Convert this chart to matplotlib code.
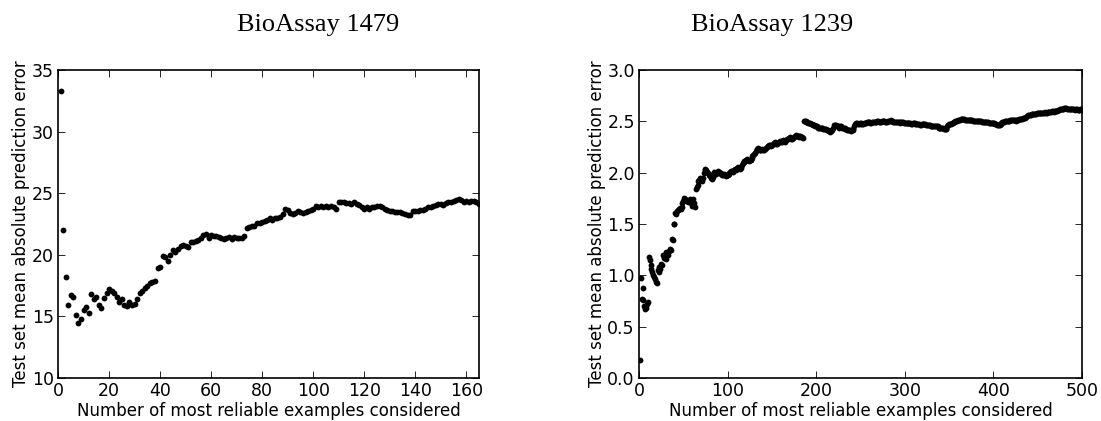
import numpy as np
import matplotlib
matplotlib.use('Agg')
import matplotlib.pyplot as plt

# BioAssay 1479: error for the n most reliable examples, n = 1..165
err_1479 = [
    33.3, 22.0, 18.2, 15.9, 16.7, 16.6, 15.1, 14.5, 14.8, 15.5,
    15.8, 15.3, 16.8, 16.4, 16.6, 15.9, 15.7, 16.5, 16.9, 17.2,
    17.1, 16.9, 16.6, 16.2, 16.4, 15.9, 15.85, 16.2, 15.9, 16.0,
    16.4, 16.9, 17.1, 17.3, 17.5, 17.7, 17.8, 17.9, 18.9, 19.0,
    19.9, 19.8, 19.5, 20.0, 20.4, 20.2, 20.5, 20.7, 20.8, 20.7,
    20.6, 21.0, 21.05, 21.1, 21.2, 21.4, 21.6, 21.7, 21.4, 21.6,
    21.5, 21.55, 21.45, 21.35, 21.3, 21.4, 21.45, 21.3, 21.45, 21.4,
    21.4, 21.4, 21.55, 22.2, 22.25, 22.3, 22.3, 22.6, 22.55, 22.7,
    22.75, 22.8, 22.95, 22.8, 22.95, 23.0, 23.1, 23.35, 23.75, 23.6,
    23.4, 23.3, 23.4, 23.55, 23.45, 23.4, 23.5, 23.55, 23.6, 23.75,
    23.95, 23.9, 24.0, 23.9, 24.0, 23.9, 23.95, 23.85, 23.75, 24.3,
    24.3, 24.25, 24.2, 24.2, 24.15, 24.3, 24.15, 24.05, 23.9, 23.75,
    23.85, 23.7, 23.85, 23.9, 23.95, 24.0, 23.9, 23.7, 23.6, 23.55,
    23.55, 23.5, 23.5, 23.45, 23.4, 23.35, 23.2, 23.2, 23.55, 23.55,
    23.55, 23.6, 23.6, 23.7, 23.85, 23.9, 24.0, 24.05, 24.1, 24.1,
    24.05, 24.2, 24.25, 24.3, 24.35, 24.45, 24.55, 24.45, 24.3, 24.4,
    24.3, 24.35, 24.35, 24.3, 24.1,
]

# BioAssay 1239: error for the n most reliable examples, n = 1..500
err_1239 = [
    0.18, 0.97, 0.77, 0.88, 0.76, 0.70, 0.67, 0.68, 0.72, 0.74,
    1.18, 1.15, 1.10, 1.06, 1.03, 1.00, 0.98, 0.96, 0.94, 0.93,
    1.05, 1.08, 1.03, 1.06, 1.11, 1.10, 1.20, 1.17, 1.18, 1.16,
    1.23, 1.21, 1.20, 1.24, 1.26, 1.25, 1.35, 1.34, 1.50, 1.50,
    1.61, 1.60, 1.63, 1.64, 1.65, 1.66, 1.65, 1.67, 1.70, 1.72,
    1.75, 1.74, 1.73, 1.72, 1.71, 1.72, 1.74, 1.73, 1.70, 1.68,
    1.74, 1.70, 1.67, 1.84, 1.86, 1.88, 1.92, 1.93, 1.95, 1.94,
    1.92, 1.95, 2.00, 2.03, 2.04, 2.03, 2.01, 2.00, 1.98, 1.97,
    1.95, 1.94, 1.96, 1.99, 2.01, 2.00, 1.99, 2.01, 2.02, 2.01,
    2.00, 2.00, 1.99, 1.98, 1.98, 1.99, 1.98, 1.97, 1.98, 1.98,
    1.99, 2.00, 2.01, 2.02, 2.02, 2.01, 2.03, 2.04, 2.03, 2.04,
    2.05, 2.06, 2.05, 2.04, 2.05, 2.07, 2.09, 2.10, 2.11, 2.11,
    2.12, 2.13, 2.12, 2.11, 2.12, 2.12, 2.14, 2.16, 2.17, 2.18,
    2.19, 2.21, 2.23, 2.24, 2.23, 2.22, 2.22, 2.22, 2.23, 2.22,
    2.22, 2.23, 2.24, 2.25, 2.26, 2.26, 2.27, 2.27, 2.26, 2.27,
    2.28, 2.29, 2.30, 2.29, 2.28, 2.28, 2.29, 2.30, 2.31, 2.30,
    2.30, 2.31, 2.32, 2.31, 2.30, 2.32, 2.33, 2.33, 2.34, 2.35,
    2.34, 2.33, 2.33, 2.34, 2.35, 2.36, 2.37, 2.36, 2.36, 2.35,
    2.36, 2.36, 2.35, 2.35, 2.34, 2.50, 2.50, 2.50, 2.49, 2.49,
    2.48, 2.48, 2.48, 2.47, 2.47, 2.46, 2.46, 2.46, 2.45, 2.45,
    2.45, 2.44, 2.44, 2.44, 2.44, 2.44, 2.44, 2.43, 2.43, 2.43,
    2.43, 2.42, 2.42, 2.41, 2.41, 2.40, 2.41, 2.42, 2.44, 2.46,
    2.46, 2.46, 2.45, 2.45, 2.45, 2.44, 2.45, 2.45, 2.44, 2.44,
    2.44, 2.44, 2.43, 2.43, 2.42, 2.42, 2.42, 2.42, 2.41, 2.42,
    2.42, 2.43, 2.45, 2.47, 2.48, 2.48, 2.47, 2.47, 2.48, 2.48,
    2.47, 2.47, 2.47, 2.48, 2.48, 2.48, 2.49, 2.49, 2.49, 2.49,
    2.48, 2.48, 2.49, 2.49, 2.49, 2.49, 2.49, 2.49, 2.50, 2.50,
    2.49, 2.49, 2.49, 2.50, 2.50, 2.50, 2.50, 2.49, 2.49, 2.49,
    2.50, 2.50, 2.50, 2.51, 2.50, 2.50, 2.49, 2.49, 2.49, 2.49,
    2.49, 2.49, 2.49, 2.49, 2.48, 2.49, 2.49, 2.49, 2.48, 2.48,
    2.48, 2.48, 2.48, 2.48, 2.48, 2.48, 2.47, 2.47, 2.48, 2.48,
    2.48, 2.47, 2.47, 2.47, 2.47, 2.47, 2.46, 2.46, 2.47, 2.47,
    2.47, 2.47, 2.47, 2.46, 2.46, 2.46, 2.46, 2.46, 2.45, 2.45,
    2.45, 2.45, 2.45, 2.45, 2.45, 2.45, 2.45, 2.44, 2.44, 2.44,
    2.44, 2.44, 2.44, 2.43, 2.43, 2.43, 2.43, 2.45, 2.46, 2.47,
    2.47, 2.47, 2.48, 2.48, 2.49, 2.49, 2.50, 2.50, 2.50, 2.51,
    2.51, 2.51, 2.52, 2.52, 2.52, 2.52, 2.52, 2.51, 2.51, 2.51,
    2.51, 2.51, 2.51, 2.51, 2.51, 2.51, 2.50, 2.50, 2.50, 2.50,
    2.50, 2.50, 2.50, 2.50, 2.50, 2.50, 2.49, 2.49, 2.49, 2.49,
    2.49, 2.49, 2.49, 2.49, 2.48, 2.48, 2.48, 2.48, 2.48, 2.48,
    2.48, 2.47, 2.47, 2.46, 2.46, 2.46, 2.46, 2.47, 2.48, 2.49,
    2.49, 2.49, 2.50, 2.50, 2.50, 2.50, 2.50, 2.50, 2.51, 2.51,
    2.51, 2.51, 2.51, 2.51, 2.50, 2.51, 2.51, 2.51, 2.52, 2.52,
    2.52, 2.52, 2.53, 2.53, 2.53, 2.53, 2.54, 2.55, 2.56, 2.56,
    2.56, 2.56, 2.57, 2.57, 2.57, 2.57, 2.57, 2.57, 2.58, 2.58,
    2.58, 2.58, 2.58, 2.58, 2.58, 2.58, 2.58, 2.59, 2.58, 2.58,
    2.59, 2.59, 2.59, 2.59, 2.59, 2.60, 2.60, 2.59, 2.60, 2.60,
    2.60, 2.60, 2.61, 2.61, 2.62, 2.62, 2.62, 2.62, 2.62, 2.63,
    2.63, 2.63, 2.62, 2.62, 2.62, 2.62, 2.62, 2.62, 2.62, 2.62,
    2.62, 2.61, 2.62, 2.62, 2.61, 2.61, 2.61, 2.62, 2.62, 2.61,
]

titles = ['BioAssay 1479', 'BioAssay 1239']
xlabel = 'Number of most reliable examples considered'
ylabel = 'Test set mean absolute prediction error'

fig = plt.figure(figsize=(11.01, 4.21), dpi=100)
ax1 = fig.add_axes([0.0527, 0.1021, 0.3824, 0.7316])
ax2 = fig.add_axes([0.5804, 0.1021, 0.4024, 0.7316])

series = [err_1479, err_1239]
for ax, err in zip([ax1, ax2], series):
    n = np.arange(1, len(err) + 1)
    ax.plot(n, err, 'o', color='black', markersize=4.2, markeredgewidth=0)
    ax.set_xlabel(xlabel, fontsize=12, labelpad=1)
    ax.set_ylabel(ylabel, fontsize=12, labelpad=1)
    ax.tick_params(direction='in', top=True, right=True, length=5,
                   width=0.6, labelsize=12.5, pad=3)
    for s in ax.spines.values():
        s.set_linewidth(1.2)

ax1.set_xlim(0, 165)
ax1.set_ylim(10, 35)
ax1.set_xticks(range(0, 161, 20))
ax1.set_yticks(range(10, 36, 5))

ax2.set_xlim(0, 500)
ax2.set_ylim(0, 3.0)
ax2.set_xticks(range(0, 501, 100))
ax2.set_yticks(np.arange(0, 3.01, 0.5))
ax2.yaxis.set_major_formatter(matplotlib.ticker.FormatStrFormatter('%.1f'))

# captions sit above the panels, not centred on the axes
fig.text(0.289, 0.94, titles[0], family='Liberation Serif', fontsize=19,
         ha='center', va='center')
fig.text(0.701, 0.94, titles[1], family='Liberation Serif', fontsize=19,
         ha='center', va='center')

fig.savefig('out.png', dpi=100)
